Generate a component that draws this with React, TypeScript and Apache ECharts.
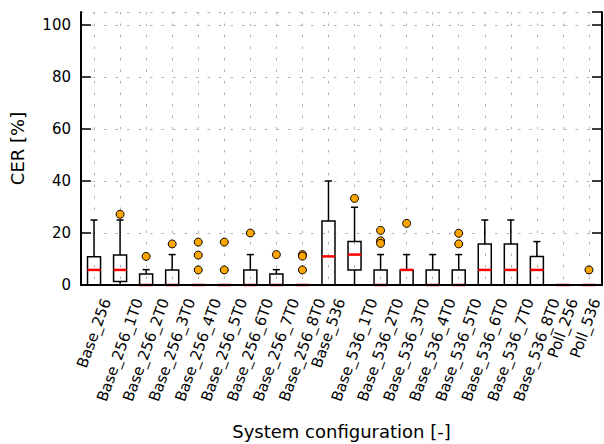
import React, { useEffect, useRef } from "react";
import * as echarts from "echarts";

const categories = [
  "Base_256", "Base_256_1T0", "Base_256_2T0", "Base_256_3T0", "Base_256_4T0",
  "Base_256_5T0", "Base_256_6T0", "Base_256_7T0", "Base_256_8T0",
  "Base_536", "Base_536_1T0", "Base_536_2T0", "Base_536_3T0", "Base_536_4T0",
  "Base_536_5T0", "Base_536_6T0", "Base_536_7T0", "Base_536_8T0",
  "Poll_256", "Poll_536",
];
const whiskerLow = [0, 0, 0, 0, 0, 0, 0, 0, 0, 0, 0, 0, 0, 0, 0, 0, 0, 0, 0, 0];
const q1 = [0, 1.3, 0, 0, 0, 0, 0, 0, 0, 0, 5.8, 0, 0, 0, 0, 0, 0, 0, 0, 0];
const median = [5.8, 5.8, 0, 0, 0, 0, 0, 0, 0, 11, 11.7, 0, 5.8, 0, 0, 5.8, 5.8, 5.8, 0, 0];
const q3 = [10.9, 11.5, 4.2, 5.8, 0, 0, 5.8, 4.2, 0, 24.6, 16.7, 5.8, 5.8, 5.8, 5.8, 15.8, 15.8, 11, 0, 0];
const whiskerHigh = [25, 25, 5.9, 11.7, 0, 0, 11.7, 5.9, 0, 40, 29.9, 11.7, 11.7, 11.7, 11.7, 25, 25, 16.7, 0, 0];
const outliers: number[][] = [
  [], [27.2], [11], [15.8], [16.5, 11.5, 5.8], [16.5, 5.8], [20], [11.7],
  [11.7, 11.1, 5.8], [], [33.3], [21, 17, 16], [23.7], [], [19.9, 15.8],
  [], [], [], [], [5.8],
];
const yMin = 0;
const yMax = 105;
const yInterval = 20;

const FONT = "DejaVu Sans";
const CANVAS_W = 604;

let measureCtx: CanvasRenderingContext2D | null = null;
function measure(text: string, size: number): number {
  if (!measureCtx) {
    measureCtx = document.createElement("canvas").getContext("2d");
  }
  if (!measureCtx) return text.length * size * 0.6;
  measureCtx.font = `${size}px "${FONT}"`;
  return measureCtx.measureText(text).width;
}

export default function App() {
  const ref = useRef<HTMLDivElement>(null);
  useEffect(() => {
    document.body.style.margin = "0";
    if (!ref.current) return;
    const chart = echarts.init(ref.current, undefined, { renderer: "svg" });

    const boxData = categories.map((_, i) => [i, whiskerLow[i], q1[i], median[i], q3[i], whiskerHigh[i]]);
    const outData: number[][] = [];
    outliers.forEach((arr, i) => arr.forEach((v) => outData.push([i, v])));
    const labelData = categories.map((_, i) => [i, 0]);

    const axisLineStyle = { color: "#000", width: 2 };
    const tickStyle = { color: "#000", width: 1.5 };
    const gridLine = { color: "#b0b0b0", width: 1, type: [2.5, 9] as number[] };

    chart.setOption({
      animation: false,
      textStyle: { fontFamily: FONT },
      grid: { left: 81, right: 2, top: 12, bottom: 159, containLabel: false, outerBoundsMode: "none" },
      xAxis: [
        {
          type: "category",
          data: categories,
          position: "bottom",
          boundaryGap: true,
          z: 10,
          axisLine: { lineStyle: axisLineStyle },
          axisTick: { inside: true, length: 10, alignWithLabel: true, interval: 0, lineStyle: tickStyle },
          axisLabel: { show: false },
          splitLine: { show: false },
          name: "System configuration [-]",
          nameLocation: "middle",
          nameGap: 137,
          nameTextStyle: { fontSize: 18, color: "#000", fontFamily: FONT },
        },
        {
          type: "category",
          data: categories,
          position: "top",
          boundaryGap: true,
          axisLine: { lineStyle: axisLineStyle },
          axisTick: { inside: true, length: 10, alignWithLabel: true, interval: 0, lineStyle: tickStyle },
          axisLabel: { show: false },
          splitLine: { show: true, interval: 0, alignWithLabel: true, lineStyle: gridLine },
        },
      ],
      yAxis: [
        {
          type: "value",
          position: "left",
          min: yMin,
          max: yMax,
          interval: yInterval,
          z: 10,
          axisLine: { show: true, lineStyle: axisLineStyle },
          axisTick: { show: true, inside: true, length: 10, lineStyle: tickStyle },
          axisLabel: { fontSize: 15, color: "#000", margin: 10, showMaxLabel: false, fontFamily: FONT },
          splitLine: { show: false },
          name: "CER [%]",
          nameLocation: "middle",
          nameGap: 55,
          nameTextStyle: { fontSize: 18, color: "#000", fontFamily: FONT },
        },
        {
          type: "value",
          position: "right",
          min: yMin,
          max: yMax,
          interval: yInterval,
          axisLine: { show: true, lineStyle: axisLineStyle },
          axisTick: { show: true, inside: true, length: 10, lineStyle: tickStyle },
          axisLabel: { show: false },
          splitLine: { show: true, lineStyle: gridLine },
        },
      ],
      series: [
        {
          type: "custom",
          xAxisIndex: 0,
          yAxisIndex: 0,
          clip: false,
          z: 3,
          data: boxData,
          renderItem: (params: any, api: any) => {
            const i = api.value(0);
            const x = api.coord([i, 0])[0];
            const band = api.size([1, 0])[0];
            const w = band * 0.5;
            const cap = band * 0.27;
            const yLo = api.coord([i, api.value(1)])[1];
            const yQ1 = api.coord([i, api.value(2)])[1];
            const yMed = api.coord([i, api.value(3)])[1];
            const yQ3 = api.coord([i, api.value(4)])[1];
            const yHi = api.coord([i, api.value(5)])[1];
            const black = { stroke: "#000", lineWidth: 1.5, fill: "none" };
            return {
              type: "group",
              children: [
                { type: "line", shape: { x1: x, y1: yQ3, x2: x, y2: yHi }, style: black },
                { type: "line", shape: { x1: x, y1: yQ1, x2: x, y2: yLo }, style: black },
                { type: "line", shape: { x1: x - cap / 2, y1: yHi, x2: x + cap / 2, y2: yHi }, style: black },
                { type: "line", shape: { x1: x - cap / 2, y1: yLo, x2: x + cap / 2, y2: yLo }, style: black },
                { type: "rect", shape: { x: x - w / 2, y: yQ3, width: w, height: yQ1 - yQ3 }, style: black },
                { type: "line", shape: { x1: x - w / 2, y1: yMed, x2: x + w / 2, y2: yMed }, style: { stroke: "#ff0000", lineWidth: 2.5 } },
              ],
            };
          },
        },
        {
          type: "scatter",
          xAxisIndex: 0,
          yAxisIndex: 0,
          z: 4,
          data: outData,
          symbol: "circle",
          symbolSize: 8,
          itemStyle: { color: "#ffa500", borderColor: "#000", borderWidth: 1, opacity: 1 },
        },
        {
          type: "custom",
          xAxisIndex: 0,
          yAxisIndex: 0,
          clip: false,
          silent: true,
          data: labelData,
          renderItem: (params: any, api: any) => {
            const i = api.value(0);
            const p = api.coord([i, 0]);
            const text = categories[i];
            const size = 15;
            const L = measure(text, size);
            const h = size * 1.17;
            const th = (70 * Math.PI) / 180;
            const bh = L * Math.sin(th) + h * Math.cos(th);
            const bw = L * Math.cos(th) + size * Math.sin(th);
            let cx = p[0];
            if (cx + bw / 2 > CANVAS_W - 1) cx = CANVAS_W - 1 - bw / 2;
            return {
              type: "text",
              x: cx,
              y: p[1] + 11 + bh / 2,
              rotation: th,
              style: {
                text,
                x: 0,
                y: 0,
                align: "center",
                verticalAlign: "middle",
                fontSize: size,
                fontFamily: FONT,
                fill: "#000",
              },
            };
          },
        },
      ],
    });
    return () => chart.dispose();
  }, []);
  return <div ref={ref} style={{ width: 604, height: 444 }} />;
}
